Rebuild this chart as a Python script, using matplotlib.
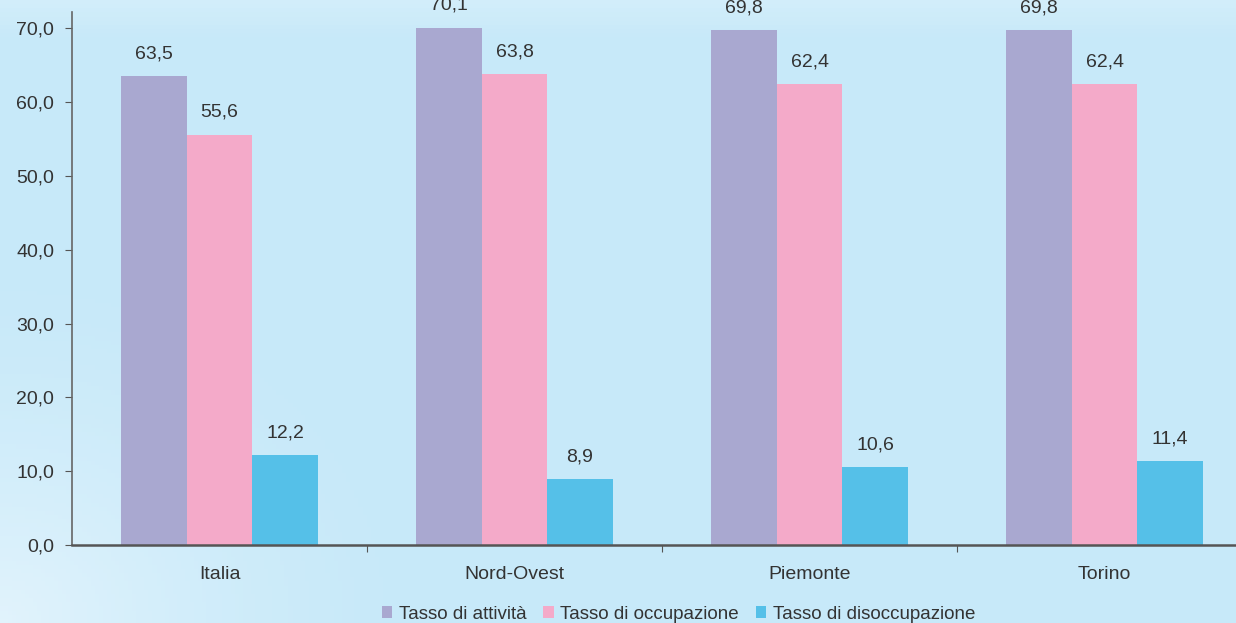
import numpy as np
import matplotlib
matplotlib.use('Agg')
import matplotlib.pyplot as plt

plt.rcParams['font.family'] = ['Liberation Sans', 'DejaVu Sans']

# Dati
categorie = ['Italia', 'Nord-Ovest', 'Piemonte', 'Torino']
serie = ['Tasso di attività', 'Tasso di occupazione', 'Tasso di disoccupazione']
attivita = [63.5, 70.1, 69.8, 69.8]
occupazione = [55.6, 63.8, 62.4, 62.4]
disoccupazione = [12.2, 8.9, 10.6, 11.4]
colori = ['#a9a8d0', '#f4aac9', '#55c0e8']

fig = plt.figure(figsize=(12.36, 6.23), dpi=100, facecolor='#c7e9f9')

# sfondo sfumato
bg = fig.add_axes([0, 0, 1, 1], zorder=-1)
gx, gy = np.meshgrid(np.linspace(0, 1, 300), np.linspace(0, 1, 150))
base = np.array([199, 233, 249]) / 255
chiaro = np.array([232, 246, 253]) / 255
d = np.sqrt((gx / 0.35) ** 2 + ((1 - gy) / 0.6) ** 2)
f = np.clip(1 - d, 0, 1) ** 1.5 * 0.8 + np.clip(1 - gy / 0.06, 0, 1) * 0.35
img = base + f[..., None] * (chiaro - base)
bg.imshow(np.clip(img, 0, 1), aspect='auto', extent=[0, 1, 0, 1], origin='upper')
bg.axis('off')

ax = fig.add_axes([0.0583, 0.1252, 0.9547, 0.8555])
ax.set_facecolor('none')

x = np.arange(len(categorie))
w = 0.222
for i, (vals, col, nome) in enumerate(zip([attivita, occupazione, disoccupazione], colori, serie)):
    pos = x + (i - 1) * w
    ax.bar(pos, vals, width=w, color=col, label=nome, zorder=2)
    for p, v in zip(pos, vals):
        ax.annotate(f'{v:.1f}'.replace('.', ','), (p, v), xytext=(0, 16),
                    textcoords='offset points', ha='center', va='center',
                    fontsize=14, color='#333333', annotation_clip=False)

ax.set_xlim(-0.5, 3.5)
ax.set_ylim(0, 72.2)
ax.set_yticks(np.arange(0, 71, 10))
ax.set_yticklabels([f'{t:.1f}'.replace('.', ',') for t in np.arange(0, 71, 10)],
                   fontsize=14, color='#333333')
ax.set_xticks([0.5, 1.5, 2.5])
ax.set_xticklabels([])
ax.set_xticks(x, minor=True)
ax.set_xticklabels(categorie, minor=True, fontsize=14, color='#333333')
ax.tick_params(axis='x', which='minor', length=0, pad=15)
ax.tick_params(axis='x', which='major', length=5, color='#555555')
ax.tick_params(axis='y', length=5, color='#555555', pad=8)

for s in ['top', 'right']:
    ax.spines[s].set_visible(False)
ax.spines['left'].set_color('#666666')
ax.spines['left'].set_linewidth(1.2)
ax.spines['bottom'].set_color('#555555')
ax.spines['bottom'].set_linewidth(1.8)

fig.legend(loc='center', bbox_to_anchor=(0.549, 0.014), ncol=3, frameon=False,
           fontsize=13.5, handlelength=0.55, handleheight=0.55, handletextpad=0.35,
           columnspacing=0.9, labelcolor='#333333')

fig.savefig('out.png', dpi=100, facecolor=fig.get_facecolor())
